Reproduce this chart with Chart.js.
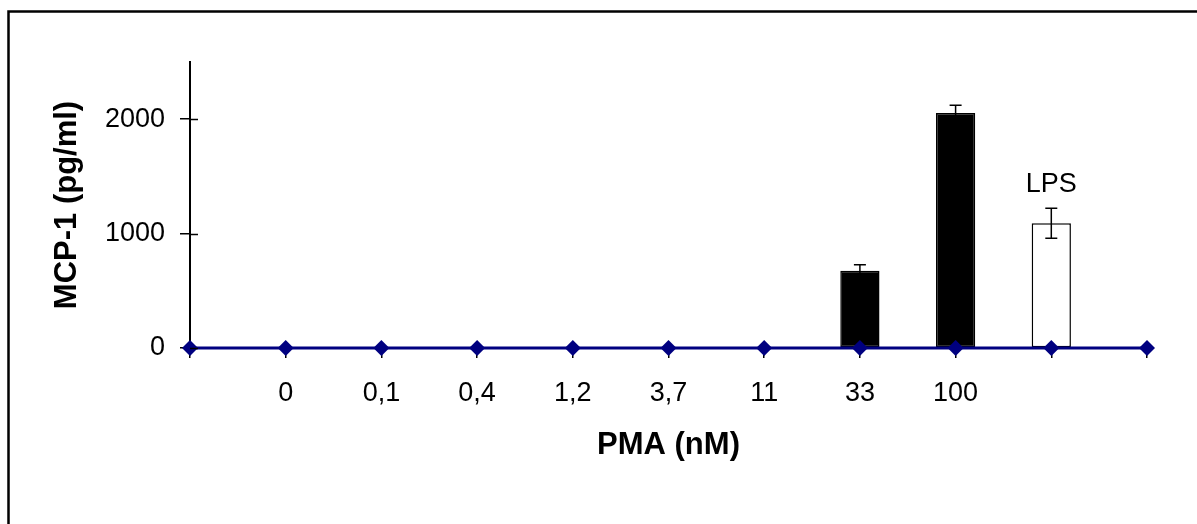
<!DOCTYPE html>
<html>
<head>
<meta charset="utf-8">
<script src="https://cdn.jsdelivr.net/npm/chart.js@4"></script>
<style>
  html, body { margin: 0; padding: 0; background: #fff; overflow: hidden; }
  #wrap { width: 1197px; height: 524px; position: relative; }
  canvas { display: block; }
</style>
</head>
<body>
<div id="wrap"><canvas id="myChart"></canvas></div>
<script>
// data
var doseLabels = ['', '0', '0,1', '0,4', '1,2', '3,7', '11', '33', '100', '', ''];
var mcp1Values = [null, 0, 0, 0, 0, 0, 0, 675, 2055, 1090, null];
var mcp1Errors = [null, null, null, null, null, null, null, 53, 67, 131, null];
var barNotes = ['', '', '', '', '', '', '', '', '', 'LPS', ''];
var baselineValues = [0, 0, 0, 0, 0, 0, 0, 0, 0, 0, 0];
var yTicks = [0, 1000, 2000];

var FONT = "'Liberation Sans', Arial, sans-serif";

var canvas = document.getElementById('myChart');
var ctx = canvas.getContext('2d');

const errorBarsPlugin = {
    id: 'errorBars',
    beforeDraw(chart) {
        const c = chart.ctx;
        c.save();
        c.fillStyle = '#fff';
        c.fillRect(0, 0, chart.width, chart.height);
        // frame: only the top and left edges are inside the picture
        c.strokeStyle = '#000';
        c.lineWidth = 2.5;
        c.beginPath();
        c.moveTo(8.5, chart.height);
        c.lineTo(8.5, 11.5);
        c.lineTo(chart.width, 11.5);
        c.stroke();
        c.restore();
    },
    afterDatasetsDraw(chart) {
        const c = chart.ctx;
        const y = chart.scales.y;
        const meta = chart.getDatasetMeta(1);
        c.save();
        c.strokeStyle = '#000';
        c.lineWidth = 1.5;
        mcp1Errors.forEach((err, i) => {
            if (err == null || mcp1Values[i] == null) return;
            const bar = meta.data[i];
            const px = bar.x;
            const top = y.getPixelForValue(mcp1Values[i] + err);
            const bot = y.getPixelForValue(mcp1Values[i] - err);
            c.beginPath();
            c.moveTo(px, top); c.lineTo(px, bot);
            c.moveTo(px - 6, top); c.lineTo(px + 6, top);
            c.moveTo(px - 6, bot); c.lineTo(px + 6, bot);
            c.stroke();
            if (barNotes[i]) {
                c.fillStyle = '#000';
                c.font = '27px ' + FONT;
                c.textAlign = 'center';
                c.textBaseline = 'middle';
                c.fillText(barNotes[i], px, top - 24);
            }
        });
        c.restore();
    },
    afterDraw(chart) {
        // inner half of the y tick marks (cross ticks)
        const c = chart.ctx;
        const y = chart.scales.y;
        c.save();
        c.strokeStyle = '#000';
        c.lineWidth = 1.5;
        y.ticks.forEach(t => {
            const py = Math.round(y.getPixelForValue(t.value)) + 0.5;
            c.beginPath();
            c.moveTo(y.right, py);
            c.lineTo(y.right + 8, py);
            c.stroke();
        });
        c.restore();
    }
};

const config = {
    type: 'bar',
    data: {
        labels: doseLabels,
        datasets: [{
            type: 'line',
            label: 'baseline',
            data: baselineValues,
            borderColor: '#000080',
            backgroundColor: '#000080',
            borderWidth: 3,
            pointStyle: 'rectRot',
            pointRadius: 8,
            pointBorderWidth: 0,
            clip: false,
            order: 0
        }, {
            label: 'MCP-1',
            data: mcp1Values,
            backgroundColor: doseLabels.map((l, i) => barNotes[i] ? '#fff' : '#000'),
            borderColor: '#000',
            borderWidth: 1.5,
            borderSkipped: false,
            categoryPercentage: 1,
            barPercentage: 0.41,
            order: 1
        }]
    },
    options: {
        responsive: true,
        maintainAspectRatio: false,
        animation: false,
        layout: { padding: { top: 62, right: 50, left: 0, bottom: 0 } },
        scales: {
            x: {
                type: 'category',
                offset: false,
                grid: {
                    offset: false,
                    drawOnChartArea: false,
                    tickLength: 10,
                    color: '#000',
                    lineWidth: 1.5
                },
                border: { color: '#000', width: 2 },
                ticks: {
                    color: '#000',
                    font: { family: FONT, size: 27 },
                    padding: 19,
                    autoSkip: false,
                    maxRotation: 0
                },
                title: {
                    display: true,
                    text: 'PMA (nM)',
                    color: '#000',
                    font: { family: FONT, size: 31, weight: 'bold' },
                    padding: { top: 0, bottom: 60 }
                },
                afterFit: function (scale) { scale.height = 176; }
            },
            y: {
                min: 0,
                max: 2500,
                grid: {
                    drawOnChartArea: false,
                    tickLength: 10,
                    color: '#000',
                    lineWidth: 1.5
                },
                border: { color: '#000', width: 2 },
                ticks: {
                    color: '#000',
                    font: { family: FONT, size: 27 },
                    padding: 15,
                    callback: function (v) { return String(v); }
                },
                afterBuildTicks: function (scale) {
                    scale.ticks = yTicks.map(v => ({ value: v }));
                },
                title: {
                    display: true,
                    text: 'MCP-1 (pg/ml)',
                    color: '#000',
                    font: { family: FONT, size: 31, weight: 'bold' },
                    padding: { top: 49, bottom: 0 }
                },
                afterFit: function (scale) { scale.width = 190; }
            }
        },
        plugins: {
            legend: false,
            tooltip: { enabled: false }
        }
    },
    plugins: [errorBarsPlugin]
};

new Chart(ctx, config);
</script>
</body>
</html>
